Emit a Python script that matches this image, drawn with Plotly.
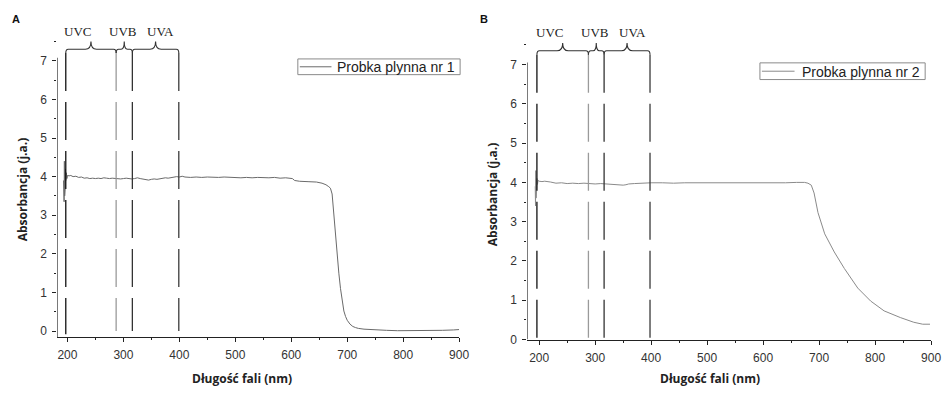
import plotly.graph_objects as go

# ---------------- data ----------------
wl_a = [193, 194, 194.5, 195, 195.5, 196, 196.5, 197, 198, 199, 200, 203, 206, 210, 215, 220, 225, 230,
        235, 240, 245, 250, 255, 260, 265, 270, 275, 280, 285, 290, 295, 300, 305, 310, 315, 320,
        325, 330, 335, 340, 345, 350, 355, 360, 365, 370, 375, 380, 385, 390, 395, 400, 405, 410,
        420, 430, 440, 450, 460, 470, 480, 490, 500, 510, 520, 530, 540, 550, 560, 570, 580, 590,
        598, 602, 606, 615, 630, 645, 655, 662, 667, 670, 673, 676, 679, 682, 685, 688, 691, 694,
        697, 700, 705, 710, 715, 720, 730, 740, 750, 770, 790, 810, 830, 850, 870, 890, 900]
abs_a = [3.9, 3.35, 4.4, 3.5, 4.3, 3.7, 4.2, 3.9, 4.1, 3.95, 4.03, 4.02, 4.03, 4.0, 4.01, 3.98, 3.99, 3.96,
         3.97, 3.95, 3.96, 3.95, 3.96, 3.95, 3.97, 3.96, 3.95, 3.96, 3.95, 3.95, 3.94, 3.95, 3.96, 3.95, 3.94, 3.95,
         3.97, 3.95, 3.94, 3.92, 3.91, 3.93, 3.94, 3.93, 3.95, 3.96, 3.97, 3.96, 3.98, 3.99, 4.0, 3.99, 4.01, 3.99,
         3.98, 3.99, 3.98, 3.99, 3.98, 3.98, 3.99, 3.98, 3.98, 3.97, 3.98, 3.97, 3.98, 3.97, 3.97, 3.98, 3.96, 3.97,
         3.96, 3.95, 3.9, 3.88, 3.87, 3.86, 3.83, 3.79, 3.74, 3.7, 3.55, 3.0, 2.5, 2.0, 1.5, 1.1, 0.75, 0.52,
         0.38, 0.28, 0.18, 0.12, 0.09, 0.07, 0.05, 0.04, 0.03, 0.02, 0.01, 0.01, 0.01, 0.01, 0.02, 0.03, 0.04]

wl_b = [193, 193.5, 194, 194.5, 195, 195.5, 196, 197, 198, 200, 205, 210, 220, 230, 240, 250, 260, 270,
        280, 290, 300, 310, 320, 330, 340, 345, 350, 355, 360, 370, 380, 390, 400, 420, 440, 460,
        480, 500, 520, 540, 560, 580, 600, 620, 640, 660, 674, 680, 686, 691, 698, 710, 727, 745,
        769, 792, 816, 845, 869, 885, 898]
abs_b = [3.9, 3.4, 4.3, 3.6, 4.2, 3.8, 4.1, 3.95, 4.05, 4.03, 4.02, 4.03, 4.01, 3.98, 3.99, 3.97, 3.98, 3.97,
         3.98, 3.97, 3.96, 3.97, 3.96, 3.95, 3.93, 3.92, 3.93, 3.94, 3.96, 3.97, 3.98, 3.98, 3.99, 3.99, 3.98, 3.99,
         3.99, 3.98, 3.99, 3.99, 3.98, 3.99, 3.99, 3.98, 3.99, 4.0, 4.0, 3.98, 3.93, 3.73, 3.23, 2.69, 2.23, 1.81,
         1.31, 0.98, 0.73, 0.56, 0.44, 0.39, 0.39]

band_edges_a = [197, 287, 316, 399]
band_edges_b = [196, 288, 316, 398]
band_names = ["UVC", "UVB", "UVA"]
band_label_x = [218, 300, 366]
band_line_colors = ["#111111", "#9a9a9a", "#333333", "#3a3a3a"]

series_names = ["Probka plynna nr 1", "Probka plynna nr 2"]
series_colors = ["#6a6a6a", "#8a8a8a"]
x_ticks = [200, 300, 400, 500, 600, 700, 800, 900]
y_ticks = [0, 1, 2, 3, 4, 5, 6, 7]

# ---------------- layout geometry ----------------
W, H = 951, 393
def px(v):
    return v / W
def py(v):
    return 1 - v / H

fig = go.Figure()
fig.add_trace(go.Scatter(x=wl_a, y=abs_a, mode="lines", name=series_names[0],
                         line=dict(color=series_colors[0], width=1), xaxis="x", yaxis="y"))
fig.add_trace(go.Scatter(x=wl_b, y=abs_b, mode="lines", name=series_names[1],
                         line=dict(color=series_colors[1], width=1), xaxis="x2", yaxis="y2"))

tickfont = dict(family="Liberation Sans, Arial, sans-serif", size=12, color="#333")
common_x = dict(tickvals=x_ticks, ticks="outside", ticklen=4, tickwidth=1, tickcolor="#222",
                showline=True, linecolor="#222", linewidth=1.2, showgrid=False, zeroline=False,
                tickfont=tickfont, ticklabelstandoff=3,
                minor=dict(dtick=50, ticks="outside", ticklen=2, tickcolor="#222"))
common_y = dict(tickvals=y_ticks, ticks="outside", ticklen=4, tickwidth=1, tickcolor="#222",
                showline=False, showgrid=False, zeroline=False, tickfont=tickfont, ticklabelstandoff=3,
                minor=dict(dtick=0.5, ticks="outside", ticklen=2, tickcolor="#222"))

ya_range = [-0.15, 7.6]
yb_range = [0.0, 7.6]
fig.update_layout(
    width=W, height=H, margin=dict(l=0, r=0, t=0, b=0),
    paper_bgcolor="white", plot_bgcolor="white", showlegend=False,
    xaxis=dict(domain=[px(58), px(464)], range=[182, 900], anchor="y", **common_x),
    yaxis=dict(domain=[py(343), py(38.3)], range=ya_range, anchor="x", **common_y),
    xaxis2=dict(domain=[px(533), px(941)], range=[179, 900], anchor="y2", **common_x),
    yaxis2=dict(domain=[py(345.7), py(41.7)], range=yb_range, anchor="x2", **common_y),
)

shapes = []
annos = []

def add_panel(xr, yr, ybot, edges, y_top_axis, y_br, lab_py, xmin):
    # y axis line
    shapes.append(dict(type="line", xref=xr, yref=yr, x0=xmin, x1=xmin, y0=ybot,
                       y1=y_top_axis, line=dict(color="#222", width=1.2)))
    # dashed band lines
    for i, e in enumerate(edges):
        y_bottom = -0.08 if i == 0 else 0.0
        shapes.append(dict(type="line", xref=xr, yref=yr, x0=e, x1=e, y0=y_br - 0.1, y1=y_bottom,
                           line=dict(color=band_line_colors[i], width=1.3, dash="38px,11px")))
    # braces
    for i in range(3):
        a, b = edges[i], edges[i + 1]
        m = (a + b) / 2
        rx, ry, h = 4.5, 0.1, 0.2
        tr = min(10, (b - a) / 5)
        p = (f"M {a},{y_br - ry} Q {a},{y_br} {a + rx},{y_br} L {m - tr},{y_br} "
             f"Q {m},{y_br} {m},{y_br + h} Q {m},{y_br} {m + tr},{y_br} "
             f"L {b - rx},{y_br} Q {b},{y_br} {b},{y_br - ry}")
        shapes.append(dict(type="path", xref=xr, yref=yr, path=p, line=dict(color="#333", width=1.1)))
        annos.append(dict(xref=xr, yref="paper", x=band_label_x[i], y=py(lab_py), text=band_names[i],
                          showarrow=False, xanchor="center", yanchor="middle",
                          font=dict(family="Liberation Serif, Times New Roman, serif", size=13, color="#222")))

add_panel("x", "y", ya_range[0], band_edges_a, 7.08, 7.30, 32, 182)
add_panel("x2", "y2", yb_range[0], band_edges_b, 7.05, 7.35, 33, 179)

# legends (box, line sample, label)
def add_legend(x0, x1, y0, y1, line_x0, line_x1, text_x, name, color):
    shapes.append(dict(type="rect", xref="paper", yref="paper", x0=px(x0), x1=px(x1), y0=py(y1), y1=py(y0),
                       line=dict(color="#8a8a8a", width=1), fillcolor="white"))
    ym = (y0 + y1) / 2
    shapes.append(dict(type="line", xref="paper", yref="paper", x0=px(line_x0), x1=px(line_x1),
                       y0=py(ym), y1=py(ym), line=dict(color=color, width=1)))
    annos.append(dict(xref="paper", yref="paper", x=px(text_x), y=py(ym + 0.5), text=name, showarrow=False,
                      xanchor="left", yanchor="middle",
                      font=dict(family="Liberation Sans, Arial, sans-serif", size=14, color="#222")))

add_legend(301, 465, 60, 76, 303, 335, 339, series_names[0], series_colors[0])
add_legend(768, 935, 64, 81, 770, 803, 808, series_names[1], series_colors[1])

titlefont = dict(family="Open Sans, sans-serif", size=12, color="#222")
annos += [
    dict(xref="paper", yref="paper", x=px(245), y=py(385), text="<b>Długość fali (nm)</b>", showarrow=False,
         xanchor="center", yanchor="middle", font=titlefont),
    dict(xref="paper", yref="paper", x=px(718), y=py(385), text="<b>Długość fali (nm)</b>", showarrow=False,
         xanchor="center", yanchor="middle", font=titlefont),
    dict(xref="paper", yref="paper", x=px(23), y=py(193), text="<b>Absorbancja (j.a.)</b>", showarrow=False,
         xanchor="center", yanchor="middle", textangle=-90, font=titlefont),
    dict(xref="paper", yref="paper", x=px(498), y=py(198), text="<b>Absorbancja (j.a.)</b>", showarrow=False,
         xanchor="center", yanchor="middle", textangle=-90, font=titlefont),
    dict(xref="paper", yref="paper", x=px(16), y=py(19), text="<b>A</b>", showarrow=False,
         xanchor="center", yanchor="middle",
         font=dict(family="Liberation Sans, Arial, sans-serif", size=11, color="#111")),
    dict(xref="paper", yref="paper", x=px(489), y=py(19), text="<b>B</b>", showarrow=False,
         xanchor="center", yanchor="middle",
         font=dict(family="Liberation Sans, Arial, sans-serif", size=11, color="#111")),
]
fig.update_layout(shapes=shapes, annotations=annos)
fig.write_html("out.html")
